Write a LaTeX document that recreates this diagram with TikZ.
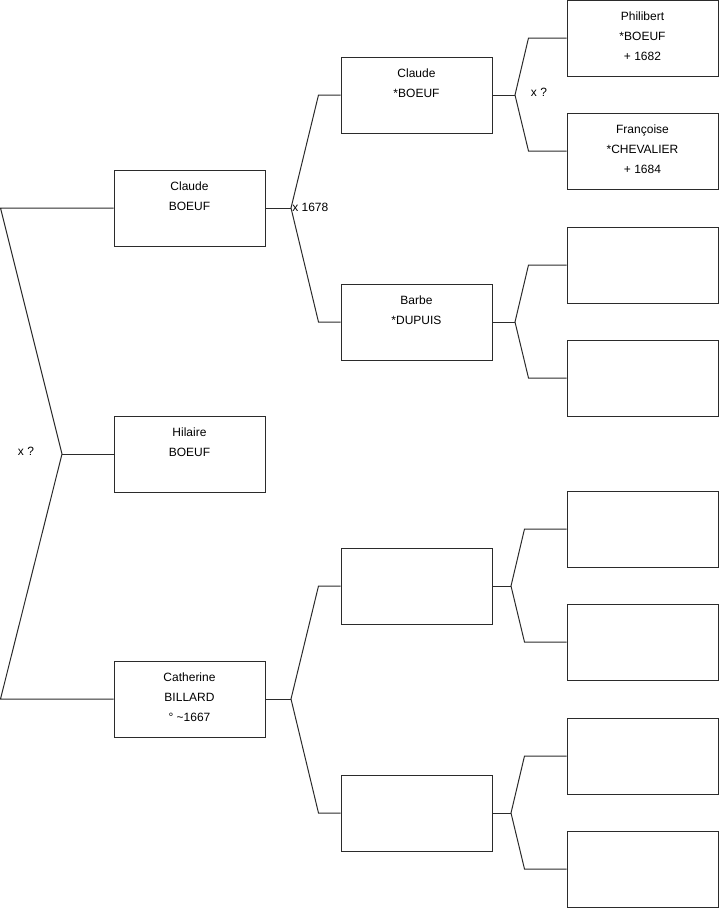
\documentclass[tikz,border=0pt]{standalone}
\usepackage{fontspec}
\setmainfont{Liberation Sans}
\usetikzlibrary{positioning, calc}
\definecolor{treeline}{HTML}{2B2B2B}
\tikzset{
  x=0.75pt, y=-0.75pt,
  person/.style={rectangle, draw=treeline, line width=0.75pt, minimum width=113.25pt,
                 minimum height=57pt, inner sep=0pt},
  who/.style={anchor=north, align=center, inner sep=0pt, yshift=-8.7pt,
              font=\fontsize{9}{15}\selectfont},
  link/.style={draw=treeline, line width=0.75pt},
  wedding/.style={font=\fontsize{9}{11}\selectfont, inner sep=0pt},
}
\begin{document}
\begin{tikzpicture}
  \useasboundingbox (0,0) rectangle (719,908);
  % generation 1
  \node[person] (s1) at (189.5,454) {};
  \node[person] (s2) at (189.5,208) {};
  \node[person] (s3) at (189.5,699) {};
  % generation 2
  \node[person] (s4) at (416.5,95) {};
  \node[person] (s5) at (416.5,322) {};
  \node[person] (s6) at (416.5,586) {};
  \node[person] (s7) at (416.5,813) {};
  % generation 3
  \node[person] (s8) at (642.5,38) {};
  \node[person] (s9) at (642.5,151) {};
  \node[person] (s10) at (642.5,265) {};
  \node[person] (s11) at (642.5,378) {};
  \node[person] (s12) at (642.5,529) {};
  \node[person] (s13) at (642.5,642) {};
  \node[person] (s14) at (642.5,756) {};
  \node[person] (s15) at (642.5,869) {};
  % names
  \node[who] (n1) at (s1.north) {Hilaire\\BOEUF};
  \node[who] (n2) at (s2.north) {Claude\\BOEUF};
  \node[who] (n3) at (s3.north) {Catherine\\BILLARD\\° \textasciitilde1667};
  \node[who] (n4) at (s4.north) {Claude\\*BOEUF};
  \node[who] (n5) at (s5.north) {Barbe\\*DUPUIS};
  \node[who] (n8) at (s8.north) {Philibert\\*BOEUF\\ + 1682};
  \node[who] (n9) at (s9.north) {Françoise\\*CHEVALIER\\+ 1684};
  % couple 2 x 3
  \coordinate (j1) at (62,454);
  \coordinate (e2) at (0.5,208);
  \coordinate (e3) at (0.5,699);
  \draw[link] (s2.west) -- (e2) -- (j1) -- (e3) -- (s3.west);
  \draw[link] (j1) -- (s1.west);
  \node[wedding] (m1) at (26,451) {x ?};
  % couple 4 x 5
  \coordinate (j2) at (291,208);
  \draw[link] (s2.east) -- (j2);
  \draw[link] (s4.west) -- ++(-22,0) -- (j2) -- ($(s5.west)+(-22,0)$) -- (s5.west);
  \node[wedding, anchor=west] (m2) at (292,207.5) {x 1678};
  % couple 6 x 7
  \coordinate (j3) at (291,699);
  \draw[link] (s3.east) -- (j3);
  \draw[link] (s6.west) -- ++(-22,0) -- (j3) -- ($(s7.west)+(-22,0)$) -- (s7.west);
  % couple 8 x 9
  \coordinate (j4) at (515,95);
  \draw[link] (s4.east) -- (j4);
  \draw[link] (s8.west) -- ++(-38,0) -- (j4) -- ($(s9.west)+(-38,0)$) -- (s9.west);
  \node[wedding] (m4) at (539,92.5) {x ?};
  % couple 10 x 11
  \coordinate (j5) at (515,322);
  \draw[link] (s5.east) -- (j5);
  \draw[link] (s10.west) -- ++(-38,0) -- (j5) -- ($(s11.west)+(-38,0)$) -- (s11.west);
  % couple 12 x 13
  \coordinate (j6) at (511,586);
  \draw[link] (s6.east) -- (j6);
  \draw[link] (s12.west) -- ++(-42,0) -- (j6) -- ($(s13.west)+(-42,0)$) -- (s13.west);
  % couple 14 x 15
  \coordinate (j7) at (511,813);
  \draw[link] (s7.east) -- (j7);
  \draw[link] (s14.west) -- ++(-42,0) -- (j7) -- ($(s15.west)+(-42,0)$) -- (s15.west);
\end{tikzpicture}
\end{document}
